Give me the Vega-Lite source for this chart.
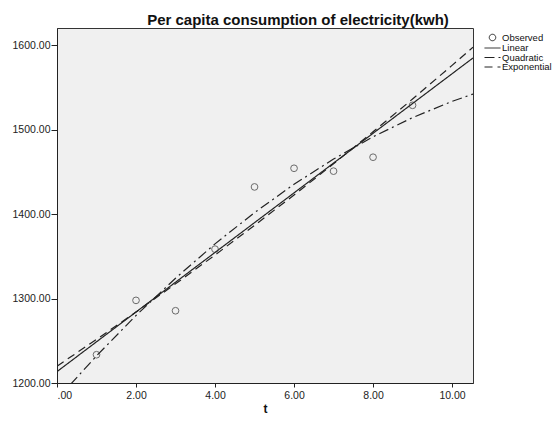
{
  "$schema": "https://vega.github.io/schema/vega-lite/v6.json",
  "width": 416,
  "height": 355,
  "autosize": {"type": "none"},
  "padding": {"left": 57, "top": 28, "right": 85, "bottom": 38},
  "background": "white",
  "config": {
    "font": "Liberation Sans",
    "view": {"fill": "#f0f0f0", "stroke": "#333", "strokeWidth": 1},
    "axis": {"grid": false, "labelFont": "Liberation Sans", "labelFontSize": 10.5, "labelColor": "#222", "tickColor": "#222", "domainColor": "#222", "titleFont": "Liberation Sans", "titleColor": "#111"},
    "legend": {"rowPadding": -3.5, "gridAlign": "none", "symbolSize": 16, "labelFontSize": 9.5}
  },
  "title": {"text": "Per capita consumption of electricity(kwh)", "font": "Liberation Sans", "fontSize": 15, "fontWeight": "bold", "color": "#111", "anchor": "middle", "dx": 33, "offset": 0},
  "datasets": {
    "observed": [
      {"t": 1, "y": 1233.5}, {"t": 2, "y": 1297.9}, {"t": 3, "y": 1285.6},
      {"t": 4, "y": 1358.6}, {"t": 5, "y": 1432.3}, {"t": 6, "y": 1454.4},
      {"t": 7, "y": 1451.0}, {"t": 8, "y": 1467.5}, {"t": 9, "y": 1529.0}
    ],
    "fits": [
      {"series": "Linear", "t": 0, "y": 1213.5},
      {"series": "Linear", "t": 5, "y": 1389.98},
      {"series": "Linear", "t": 10.53, "y": 1585.1},
      {"series": "Quadratic", "t": 0, "y": 1180.75},
      {"series": "Quadratic", "t": 1, "y": 1232.13},
      {"series": "Quadratic", "t": 2, "y": 1279.94},
      {"series": "Quadratic", "t": 3, "y": 1324.17},
      {"series": "Quadratic", "t": 4, "y": 1364.82},
      {"series": "Quadratic", "t": 5, "y": 1401.9},
      {"series": "Quadratic", "t": 6, "y": 1435.4},
      {"series": "Quadratic", "t": 7, "y": 1465.33},
      {"series": "Quadratic", "t": 8, "y": 1491.68},
      {"series": "Quadratic", "t": 9, "y": 1514.45},
      {"series": "Quadratic", "t": 10, "y": 1533.65},
      {"series": "Quadratic", "t": 10.53, "y": 1542.4},
      {"series": "Exponential", "t": 0, "y": 1219.96},
      {"series": "Exponential", "t": 1, "y": 1251.63},
      {"series": "Exponential", "t": 2, "y": 1284.12},
      {"series": "Exponential", "t": 3, "y": 1317.46},
      {"series": "Exponential", "t": 4, "y": 1351.66},
      {"series": "Exponential", "t": 5, "y": 1386.75},
      {"series": "Exponential", "t": 6, "y": 1422.75},
      {"series": "Exponential", "t": 7, "y": 1459.68},
      {"series": "Exponential", "t": 8, "y": 1497.57},
      {"series": "Exponential", "t": 9, "y": 1536.45},
      {"series": "Exponential", "t": 10, "y": 1576.33},
      {"series": "Exponential", "t": 10.53, "y": 1597.9}
    ]
  },
  "layer": [
    {
      "data": {"name": "fits"},
      "mark": {"type": "line", "clip": true, "color": "#222", "strokeWidth": 1.2},
      "encoding": {
        "x": {"field": "t", "type": "quantitative", "scale": {"domain": [0, 10.53], "nice": false, "zero": false},
          "axis": {"values": [0, 2, 4, 6, 8, 10], "labelExpr": "datum.value === 0 ? '.00' : format(datum.value, '.2f')", "tickSize": 4, "labelPadding": 3, "title": "t", "titleFontSize": 12, "titleFontWeight": "bold", "titlePadding": 3}},
        "y": {"field": "y", "type": "quantitative", "scale": {"domain": [1200, 1620.6], "nice": false, "zero": false},
          "axis": {"values": [1200, 1300, 1400, 1500, 1600], "format": ".2f", "tickSize": 6, "labelPadding": 1, "title": null}},
        "strokeDash": {"field": "series", "type": "nominal",
          "scale": {"domain": ["Observed", "Linear", "Quadratic", "Exponential"], "range": [[1, 0], [1, 0], [10, 4, 2, 4], [8, 5]]},
          "legend": {"title": null, "orient": "none", "legendX": 427, "legendY": 1, "padding": 0, "symbolType": "stroke", "symbolStrokeWidth": 1, "symbolStrokeColor": "#222", "labelColor": "#111", "labelOffset": 1, "labelLimit": 80,
            "encode": {"symbols": {"update": {
              "shape": {"signal": "datum.value === 'Observed' ? 'circle' : 'stroke'"},
              "size": {"signal": "datum.value === 'Observed' ? 42 : 256"},
              "stroke": {"value": "#222"},
              "fill": {"value": "transparent"}
            }}}}
        },
        "detail": {"field": "series"}
      }
    },
    {
      "data": {"name": "observed"},
      "mark": {"type": "point", "shape": "circle", "filled": false, "size": 45, "stroke": "#333", "strokeWidth": 1, "clip": true},
      "encoding": {
        "x": {"field": "t", "type": "quantitative"},
        "y": {"field": "y", "type": "quantitative"}
      }
    }
  ]
}
